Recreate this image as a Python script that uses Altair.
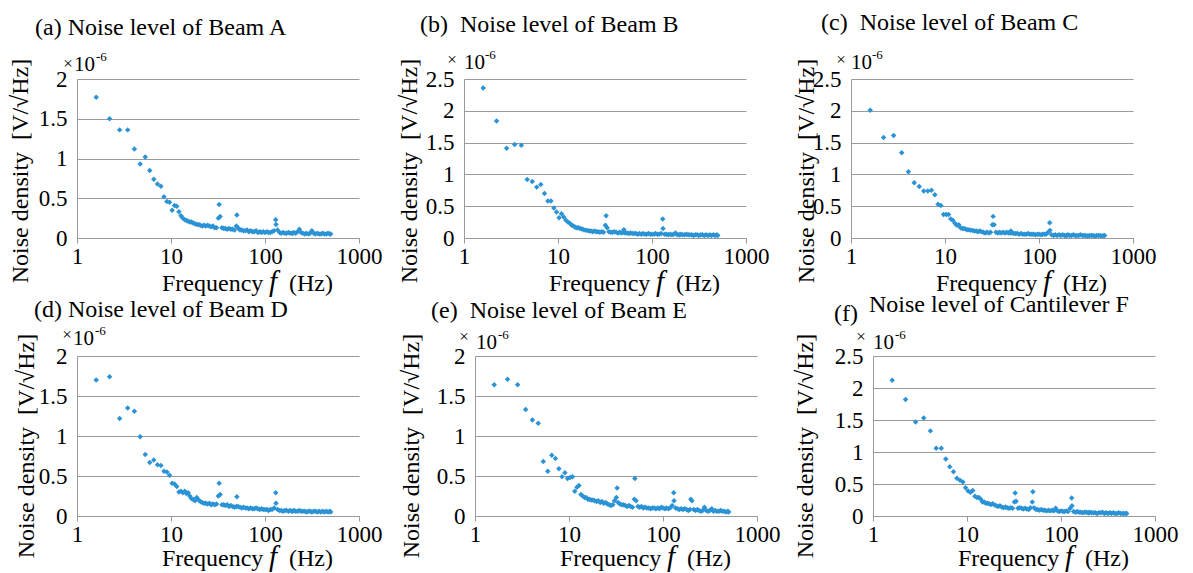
import altair as alt
import pandas as pd

# ---------------- data (noise density, x 1e-6 V/sqrt(Hz)) ----------------
FREQ = [1.6, 2.22, 2.84, 3.46, 4.08, 4.7, 5.32, 5.94, 6.56, 7.18, 7.8, 8.42,
        9.04, 9.66, 10.28, 10.9, 11.52, 12.14, 12.76, 13.38, 14.0, 14.62, 15.24, 15.86,
        16.5, 17.2, 18.0, 18.8, 19.7, 20.5, 21.5, 22.4, 23.4, 24.5,
        25.6, 26.7, 27.9, 29.2, 30.5, 31.9, 32.5, 33.3, 34.8, 36.4,
        38.0, 39.7, 41.5, 43.4, 45.3, 47.4, 49.5, 50.2, 51.7, 54.1,
        56.5, 59.0, 61.7, 64.5, 67.4, 70.4, 73.6, 76.9, 80.4, 84.0,
        87.8, 91.7, 95.9, 100, 105, 109, 114, 119, 125, 130,
        131, 136, 143, 149, 156, 163, 170, 178, 186, 194,
        198, 203, 212, 222, 232, 242, 253, 265, 276, 289,
        302, 315, 330, 344, 360, 376, 393, 411, 429, 449,
        469, 490, 500]

BEAM_A = [1.77, 1.50, 1.36, 1.36, 1.12, 0.93, 1.02, 0.85, 0.74, 0.68, 0.65, 0.52,
          0.46, 0.45, 0.35, 0.41, 0.40, 0.33, 0.28, 0.25, 0.23, 0.22, 0.21, 0.20,
          0.20, 0.19, 0.18, 0.17, 0.17, 0.16, 0.15, 0.16, 0.15, 0.16,
          0.15, 0.14, 0.15, 0.13, 0.13, 0.25, 0.42, 0.27, 0.13, 0.12,
          0.12, 0.11, 0.12, 0.11, 0.11, 0.10, 0.15, 0.29, 0.13, 0.10,
          0.10, 0.09, 0.09, 0.10, 0.08, 0.09, 0.08, 0.08, 0.09, 0.07,
          0.08, 0.07, 0.08, 0.07, 0.08, 0.07, 0.07, 0.08, 0.09, 0.23,
          0.17, 0.10, 0.07, 0.06, 0.07, 0.06, 0.06, 0.07, 0.06, 0.06,
          0.06, 0.07, 0.06, 0.08, 0.11, 0.07, 0.06, 0.05, 0.06, 0.05,
          0.06, 0.09, 0.06, 0.05, 0.06, 0.05, 0.05, 0.06, 0.05, 0.05,
          0.06, 0.05, 0.05]

BEAM_B = [2.36, 1.84, 1.41, 1.47, 1.46, 0.92, 0.89, 0.80, 0.84, 0.70, 0.58, 0.58,
          0.47, 0.41, 0.32, 0.38, 0.33, 0.28, 0.25, 0.23, 0.20, 0.19, 0.17, 0.16,
          0.16, 0.15, 0.14, 0.13, 0.12, 0.12, 0.11, 0.11, 0.10, 0.11,
          0.10, 0.10, 0.09, 0.10, 0.09, 0.20, 0.35, 0.16, 0.10, 0.09,
          0.09, 0.10, 0.09, 0.08, 0.09, 0.08, 0.09, 0.13, 0.08, 0.08,
          0.07, 0.08, 0.07, 0.07, 0.07, 0.06, 0.07, 0.06, 0.07, 0.06,
          0.06, 0.07, 0.06, 0.06, 0.06, 0.07, 0.06, 0.06, 0.07, 0.30,
          0.15, 0.06, 0.06, 0.05, 0.06, 0.05, 0.06, 0.08, 0.05, 0.05,
          0.05, 0.06, 0.05, 0.05, 0.06, 0.05, 0.05, 0.05, 0.04, 0.05,
          0.05, 0.04, 0.05, 0.05, 0.04, 0.05, 0.04, 0.05, 0.04, 0.05,
          0.04, 0.05, 0.04]

BEAM_C = [2.01, 1.58, 1.61, 1.34, 1.04, 0.87, 0.81, 0.74, 0.74, 0.75, 0.68, 0.53,
          0.51, 0.37, 0.37, 0.37, 0.30, 0.28, 0.23, 0.20, 0.21, 0.16, 0.15, 0.15,
          0.14, 0.13, 0.13, 0.12, 0.12, 0.11, 0.11, 0.10, 0.11, 0.10,
          0.09, 0.08, 0.09, 0.08, 0.09, 0.21, 0.34, 0.21, 0.09, 0.08,
          0.09, 0.08, 0.09, 0.08, 0.09, 0.08, 0.08, 0.11, 0.08, 0.07,
          0.07, 0.07, 0.06, 0.07, 0.06, 0.06, 0.06, 0.07, 0.06, 0.06,
          0.06, 0.05, 0.06, 0.06, 0.05, 0.06, 0.06, 0.06, 0.09, 0.24,
          0.12, 0.05, 0.04, 0.05, 0.04, 0.05, 0.04, 0.05, 0.04, 0.04,
          0.04, 0.05, 0.04, 0.04, 0.05, 0.04, 0.04, 0.04, 0.05, 0.04,
          0.04, 0.04, 0.03, 0.04, 0.04, 0.04, 0.03, 0.04, 0.04, 0.04,
          0.03, 0.04, 0.04]

BEAM_D = [1.70, 1.74, 1.22, 1.35, 1.31, 0.99, 0.77, 0.67, 0.70, 0.64, 0.63, 0.56,
          0.55, 0.51, 0.41, 0.40, 0.37, 0.30, 0.31, 0.29, 0.31, 0.28, 0.29, 0.25,
          0.22, 0.21, 0.19, 0.23, 0.20, 0.18, 0.17, 0.16, 0.16, 0.15,
          0.16, 0.14, 0.15, 0.14, 0.15, 0.25, 0.41, 0.27, 0.14, 0.14,
          0.13, 0.14, 0.12, 0.13, 0.12, 0.11, 0.12, 0.24, 0.12, 0.11,
          0.10, 0.11, 0.10, 0.10, 0.09, 0.10, 0.09, 0.09, 0.10, 0.09,
          0.08, 0.09, 0.08, 0.08, 0.08, 0.07, 0.08, 0.08, 0.10, 0.29,
          0.16, 0.08, 0.07, 0.07, 0.06, 0.07, 0.07, 0.06, 0.07, 0.06,
          0.06, 0.07, 0.06, 0.06, 0.07, 0.06, 0.06, 0.06, 0.05, 0.06,
          0.06, 0.05, 0.06, 0.06, 0.05, 0.06, 0.05, 0.06, 0.05, 0.06,
          0.05, 0.06, 0.05]

BEAM_E = [1.64, 1.71, 1.64, 1.33, 1.20, 1.16, 0.68, 0.56, 0.76, 0.72, 0.59, 0.49,
          0.54, 0.47, 0.48, 0.49, 0.31, 0.36, 0.38, 0.27, 0.25, 0.23, 0.23, 0.21,
          0.21, 0.20, 0.20, 0.19, 0.18, 0.19, 0.17, 0.18, 0.16, 0.17,
          0.15, 0.14, 0.13, 0.14, 0.19, 0.23, 0.35, 0.17, 0.15, 0.14,
          0.14, 0.13, 0.12, 0.13, 0.12, 0.11, 0.21, 0.47, 0.19, 0.12,
          0.11, 0.12, 0.10, 0.11, 0.10, 0.10, 0.09, 0.10, 0.10, 0.09,
          0.10, 0.09, 0.11, 0.10, 0.09, 0.10, 0.09, 0.10, 0.13, 0.29,
          0.19, 0.10, 0.09, 0.08, 0.09, 0.08, 0.09, 0.08, 0.07, 0.08,
          0.21, 0.19, 0.08, 0.07, 0.08, 0.07, 0.06, 0.07, 0.11, 0.07,
          0.06, 0.07, 0.09, 0.06, 0.07, 0.06, 0.06, 0.07, 0.06, 0.06,
          0.05, 0.06, 0.05]

CANT_F = [2.12, 1.82, 1.47, 1.53, 1.33, 1.06, 1.06, 0.89, 0.77, 0.69, 0.59, 0.56,
          0.53, 0.44, 0.39, 0.37, 0.40, 0.31, 0.29, 0.29, 0.26, 0.22, 0.22, 0.20,
          0.20, 0.19, 0.18, 0.19, 0.17, 0.16, 0.15, 0.16, 0.14, 0.13,
          0.14, 0.13, 0.12, 0.13, 0.12, 0.22, 0.36, 0.23, 0.12, 0.13,
          0.12, 0.11, 0.12, 0.11, 0.10, 0.13, 0.22, 0.38, 0.13, 0.10,
          0.10, 0.09, 0.10, 0.09, 0.09, 0.08, 0.09, 0.08, 0.09, 0.08,
          0.12, 0.08, 0.07, 0.08, 0.07, 0.07, 0.08, 0.07, 0.12, 0.28,
          0.16, 0.07, 0.06, 0.07, 0.06, 0.06, 0.05, 0.06, 0.06, 0.05,
          0.05, 0.06, 0.05, 0.05, 0.05, 0.04, 0.05, 0.05, 0.06, 0.04,
          0.05, 0.04, 0.05, 0.04, 0.05, 0.04, 0.04, 0.05, 0.04, 0.04,
          0.04, 0.04, 0.04]

X_TICKS = [1, 10, 100, 1000]
Y_TICKS_2 = [0, 0.5, 1, 1.5, 2]
Y_TICKS_25 = [0, 0.5, 1, 1.5, 2, 2.5]

TITLES = [
    ["(a) Noise level of Beam A"],
    ["(b)\u00a0 Noise level of Beam B"],
    ["(c)\u00a0 Noise level of Beam C"],
    ["(d) Noise level of Beam D"],
    ["(e)\u00a0 Noise level of Beam E"],
    ["(f)", "Noise level of Cantilever F"],
]
SERIES = [BEAM_A, BEAM_B, BEAM_C, BEAM_D, BEAM_E, CANT_F]
YMAX = [2.0, 2.5, 2.5, 2.0, 2.0, 2.5]
Y_TITLE = "Noise density\u00a0 [V/\u221aHz]"

# ---------------- styling / layout ----------------
FONT = "Liberation Serif"
BLUE = "#2A93D5"
GRAY = "#9A9A9A"
W = 282
H_ROW = [159, 160]

# per-panel annotation offsets relative to the plot area (left, top)
LAYOUT = [
    dict(title=[(-42, -44)], ytx=-49, yty=92, times=(-9, -15), ten=(-3, -8), sup=(19, -18)),
    dict(title=[(-44, -47)], ytx=-47, yty=92, times=(-12, -19), ten=(0, -10), sup=(21, -20)),
    dict(title=[(-30, -49)], ytx=-37, yty=92, times=(-10, -19), ten=(0, -10), sup=(21, -20)),
    dict(title=[(-43, -39)], ytx=-43, yty=90, times=(-10, -21), ten=(-4, -11), sup=(18, -21)),
    dict(title=[(-44, -38)], ytx=-56, yty=90, times=(-11, -19), ten=(1, -7), sup=(23, -17)),
    dict(title=[(-39, -35), (-4, -44)], ytx=-60, yty=90, times=(-12, -19), ten=(0, -7), sup=(22, -17)),
]
XT_BASE = [53, 50]

ONE = alt.Data(values=[{"k": 0}])


def txt(text, x, y, size=24, align="left", baseline="alphabetic", angle=None, style=None):
    kw = dict(text=text, font=FONT, fontSize=size, align=align, baseline=baseline, color="black")
    if angle is not None:
        kw["angle"] = angle
    if style is not None:
        kw["fontStyle"] = style
    return alt.Chart(ONE).mark_text(**kw).encode(x=alt.value(x), y=alt.value(y))


def panel(i):
    h = H_ROW[i // 3]
    lay = LAYOUT[i]
    df = pd.DataFrame({"f": FREQ, "v": SERIES[i]})
    yticks = Y_TICKS_25 if YMAX[i] > 2.0 else Y_TICKS_2
    pts = alt.Chart(df).mark_point(
        shape="diamond", filled=True, size=30, opacity=1, color=BLUE
    ).encode(
        x=alt.X("f:Q",
                scale=alt.Scale(type="log", domain=[1, 1000], nice=False),
                axis=alt.Axis(values=X_TICKS, format="~g", title=None, grid=False,
                              domainColor=GRAY, tickColor=GRAY, tickSize=5,
                              labelFont=FONT, labelFontSize=23, labelColor="black",
                              labelPadding=2, labelFlush=False, labelOverlap=False)),
        y=alt.Y("v:Q",
                scale=alt.Scale(domain=[0, YMAX[i]], nice=False),
                axis=alt.Axis(values=yticks, format="~g", title=None, grid=True,
                              gridColor=GRAY, domainColor=GRAY, ticks=False,
                              labelFont=FONT, labelFontSize=23, labelColor="black",
                              labelPadding=10, labelOverlap=False)),
    )
    layers = [pts]
    for t, (tx, ty) in zip(TITLES[i], lay["title"]):
        layers.append(txt(t, tx, ty))
    layers.append(txt(Y_TITLE, lay["ytx"], lay["yty"], align="center", angle=270))
    layers.append(txt("\u00d7", lay["times"][0], lay["times"][1], size=17, align="center", baseline="middle"))
    layers.append(txt("10", lay["ten"][0], lay["ten"][1], size=21))
    layers.append(txt("-6", lay["sup"][0], lay["sup"][1], size=13))
    xb = h + XT_BASE[i // 3]
    layers.append(txt("Frequency", 85, xb))
    layers.append(txt("f", 192, xb, size=29, style="italic"))
    layers.append(txt("(Hz)", 212, xb))
    return alt.layer(*layers).properties(width=W, height=h)


row1 = alt.hconcat(panel(0), panel(1), panel(2), spacing=105, bounds="flush")
row2 = alt.hconcat(panel(3), panel(4), panel(5), spacing=116, bounds="flush")
chart = alt.vconcat(row1, row2, spacing=-4,
                    padding={"left": 0, "top": 3, "right": 5, "bottom": 0},
                    background="white").configure_view(stroke=None)

chart.save("out.html", embed_options={"renderer": "svg", "actions": False})
